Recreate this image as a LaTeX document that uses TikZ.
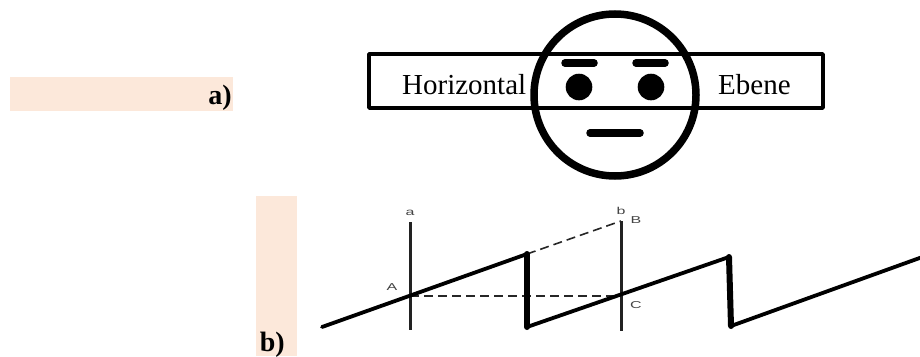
\documentclass[tikz,border=0pt]{standalone}
\usepackage{fontspec}
\setmainfont{Liberation Serif}
\newfontfamily\lblfont{Liberation Sans}
\definecolor{peach}{HTML}{FCE8DA}
\definecolor{lblgray}{HTML}{444444}
\definecolor{vgray}{HTML}{222222}
\tikzset{
  peachbox/.style={fill=peach,draw=none},
  planebox/.style={draw=black,line width=3.4pt,line join=round,fill=white},
  facering/.style={draw=black,line width=7.5pt},
  facebar/.style={draw=black,line width=7.5pt,line cap=round},
  eyedot/.style={fill=black,draw=none},
  bigtext/.style={font=\fontsize{29}{30}\selectfont,inner sep=0pt,anchor=base west},
  tag/.style={font=\fontsize{28}{30}\selectfont\bfseries,inner sep=0pt,anchor=base east},
  ptlabel/.style={font=\lblfont\fontsize{10}{11}\selectfont,text=lblgray,inner sep=0pt,transform shape,xscale=1.6},
  saw/.style={draw=black,line width=3.8pt,line join=round,line cap=round},
  drop/.style={draw=black,line width=6pt,line cap=round},
  stem/.style={draw=vgray,line width=3pt},
  guide/.style={draw=black!85,line width=1.6pt,dash pattern=on 9pt off 5pt},
}
\begin{document}
\begin{tikzpicture}[x=1pt,y=-1pt]
\useasboundingbox (0,0) rectangle (920,356);
% tags
\fill[peachbox] (10,77) rectangle (233,111);
\fill[peachbox] (256,196) rectangle (297,356);
\node[tag] (taga) at (232,104) {a)};
\node[tag] (tagb) at (285,351) {b)};
% part a
\draw[planebox] (369,54) rectangle (823,108);
\node[bigtext] (hor) at (402,94) {Horizontal};
\node[bigtext] (ebe) at (718,94) {Ebene};
\draw[facering] (615,95) circle (81);
\draw[facebar] (565,63) -- (594,63);
\draw[facebar] (636,63) -- (665,63);
\fill[eyedot] (579,87) circle (13.3);
\fill[eyedot] (651,87) circle (13.3);
\draw[facebar] (590,133) -- (640,133);
% part b
\coordinate (s0) at (322,327);
\coordinate (s1) at (527,254);
\coordinate (s2) at (527,327);
\coordinate (s3) at (729,257);
\coordinate (s4) at (731,326);
\coordinate (s5) at (921,257.5);
\coordinate (atop) at (410,222);
\coordinate (abot) at (410,330);
\coordinate (btop) at (621,221);
\coordinate (bbot) at (621,331);
\coordinate (pA) at (410,296);
\coordinate (pC) at (621,296);
\draw[stem] (atop) -- (abot);
\draw[stem] (btop) -- (bbot);
\draw[guide] (pA) -- (pC);
\draw[guide] (s1) -- (btop);
\draw[drop] (s1) -- (s2);
\draw[drop] (s3) -- (s4);
\draw[saw] (s0) -- (s1);
\draw[saw] (s2) -- (s3);
\draw[saw] (s4) -- (s5);
\node[ptlabel] (la) at (410,213) {a};
\node[ptlabel] (lb) at (621,211) {b};
\node[ptlabel] (lB) at (636,220) {B};
\node[ptlabel] (lA) at (392,287.5) {A};
\node[ptlabel] (lC) at (636,305) {C};
\end{tikzpicture}
\end{document}
